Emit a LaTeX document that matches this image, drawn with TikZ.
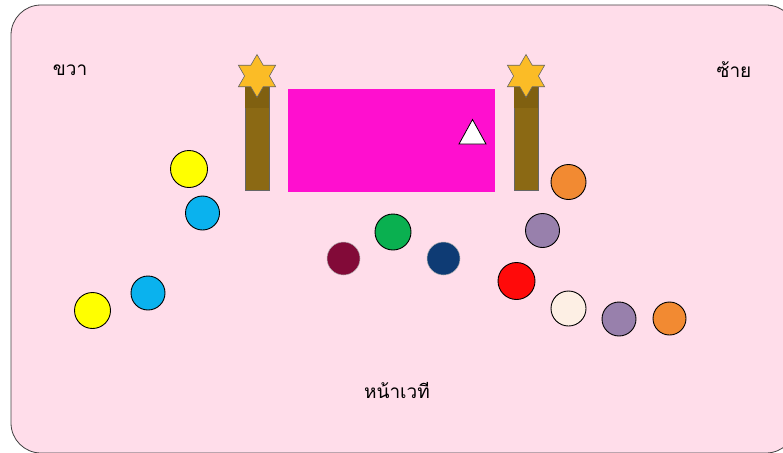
\documentclass[tikz,border=0pt]{standalone}
\usepackage{fontspec}
\newfontfamily\thaifont[Script=Thai]{Loma}
\usetikzlibrary{shapes.geometric}
\definecolor{bgpink}{HTML}{FFDDEA}
\definecolor{framegray}{HTML}{404040}
\definecolor{magbox}{HTML}{FF0FCF}
\definecolor{pillarbrown}{HTML}{8B6914}
\definecolor{pillardark}{HTML}{806010}
\definecolor{stargold}{HTML}{FBBC26}
\definecolor{cyellow}{HTML}{FFFF00}
\definecolor{cblue}{HTML}{0AB2EE}
\definecolor{cmaroon}{HTML}{820A38}
\definecolor{cnavy}{HTML}{0E3B74}
\definecolor{cgreen}{HTML}{0AB050}
\definecolor{corange}{HTML}{F28A32}
\definecolor{cpurple}{HTML}{9880AC}
\definecolor{cred}{HTML}{FF0A0A}
\definecolor{ccream}{HTML}{FDEFE4}
\tikzset{
  dot/.style={circle, draw=black, line width=0.9pt, inner sep=0pt, minimum size=#1},
  dot/.default=35pt,
  softdot/.style={circle, draw=gray!60, line width=0.5pt, inner sep=0pt, minimum size=33pt},
  pillar/.style={rectangle, draw=gray!80!black, line width=0.7pt, fill=pillarbrown, minimum width=24pt, minimum height=105pt, inner sep=0pt},
  hexstar/.style={star, star points=6, star point ratio=1.73, draw=gray!80!black, line width=0.6pt, fill=stargold, minimum size=43pt, inner sep=0pt, shape border rotate=0},
  label/.style={font=\thaifont\fontsize{19}{22}\selectfont, text=black, inner sep=0pt}
}
\begin{document}
\begin{tikzpicture}[x=1pt,y=-1pt]
\useasboundingbox (0,0) rectangle (783,452);
\begin{scope}
\clip (0,0) rectangle (783,452);
\draw[framegray, line width=0.8pt, fill=bgpink, rounded corners=30pt] (11,5) rectangle (796,453);
\end{scope}
% stage
\node[rectangle, fill=magbox, inner sep=0pt, minimum width=207pt, minimum height=103pt] (stage) at (391.5,140.5) {};
\draw[black, line width=0.8pt, fill=white] (472.5,119.5) coordinate (tA) -- (486,144) coordinate (tB) -- (459,144) coordinate (tC) -- cycle;
% pillars
\node[pillar] (pl) at (257,137.5) {};
\node[pillar] (pr) at (526,137.5) {};
\fill[pillardark] ([xshift=0.4pt,yshift=-0.4pt]pl.north west) rectangle ([xshift=-0.4pt]pl.north east |- 0,108);
\fill[pillardark] ([xshift=0.4pt,yshift=-0.4pt]pr.north west) rectangle ([xshift=-0.4pt]pr.north east |- 0,108);
\node[hexstar] (sl) at (257,76) {};
\node[hexstar] (sr) at (526,76) {};
% labels
\node[label] (right) at (70,70) {ขวา};
\node[label] (left) at (734,70) {ซ้าย};
\node[label] (front) at (397,390) {หน้าเวที};
% circles left
\node[dot=37pt, fill=cyellow] (y1) at (189,169) {};
\node[dot=34pt, fill=cblue] (b1) at (202.5,213) {};
\node[dot=34pt, fill=cblue] (b2) at (148,293) {};
\node[dot=36pt, fill=cyellow] (y2) at (92.5,310.5) {};
% center
\node[softdot, fill=cmaroon] (m) at (343.5,258.5) {};
\node[dot=36pt, fill=cgreen] (g) at (393,232) {};
\node[softdot, fill=cnavy] (n) at (443.5,258.5) {};
% right
\node[dot=35pt, fill=corange] (o1) at (568.5,182) {};
\node[dot=34pt, fill=cpurple] (p1) at (542.5,230.5) {};
\node[dot=37pt, fill=cred] (r) at (516.5,281) {};
\node[dot=35pt, fill=ccream] (c) at (568.5,308.5) {};
\node[dot=34pt, fill=cpurple] (p2) at (619,319) {};
\node[dot=33pt, fill=corange] (o2) at (669.5,318.5) {};
\end{tikzpicture}
\end{document}
